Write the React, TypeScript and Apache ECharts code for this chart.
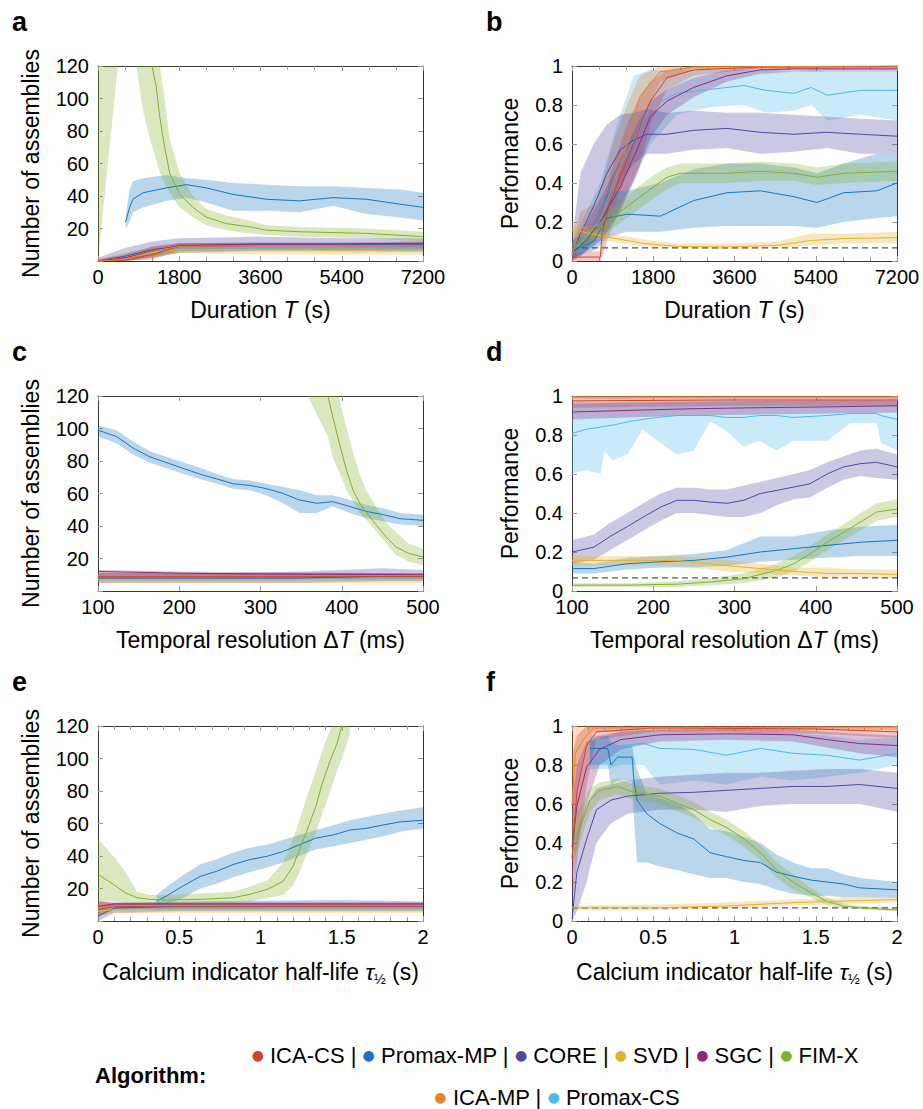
import React, { useEffect, useRef } from "react";
import * as echarts from "echarts";

const FONT = "'Liberation Sans', Arial, Helvetica, sans-serif";

const ALGORITHMS = ["ICA-CS", "Promax-MP", "CORE", "SVD", "SGC", "FIM-X", "ICA-MP", "Promax-CS"];
const COLORS = ["#d0452a", "#1677c0", "#5049a3", "#e6b12a", "#8a2b80", "#85ae2c", "#e8832a", "#4cb9e8"];

// axis ticks
const DURATION_TICKS = [0, 1800, 3600, 5400, 7200];
const RESOLUTION_TICKS = [100, 200, 300, 400, 500];
const HALFLIFE_TICKS = [0, 0.5, 1, 1.5, 2];
const COUNT_TICKS = [0, 20, 40, 60, 80, 100, 120];
const PERF_TICKS = [0, 0.2, 0.4, 0.6, 0.8, 1];
const CHANCE_LEVEL = 0.067;

// each row: [x, mean, lower, upper]
// ---- panel a: number of assemblies vs duration
const a_icacs = [[0, 0, 0, 1], [600, 0.5, 0, 2], [1200, 4, 1, 7], [1800, 9, 6, 11], [3600, 9.5, 7, 11], [5400, 9.5, 7, 11], [7200, 9.5, 7, 11]];
const a_promaxmp = [[613, 24, 20, 28], [700, 33, 24, 44], [775, 38, 30, 49], [997, 42, 33, 51], [1514, 45, 37, 53], [1957, 47, 39, 51], [2400, 45, 36, 50], [2991, 41, 31, 48], [3729, 38, 31, 47], [4468, 37, 30, 46], [5206, 39, 34, 46], [5945, 38, 29, 45], [6683, 35, 27, 44], [7200, 33, 25, 42]];
const a_core = [[0, 0, 0, 2], [600, 3, 0, 8], [1200, 7, 2, 12], [1800, 9, 5, 14], [3600, 10, 6, 15], [5400, 10, 6, 14], [7200, 10, 6, 14]];
const a_svd = [[0, 0, 0, 1], [600, 2, 0, 5], [1200, 5, 2, 8], [1800, 7, 5, 10], [3600, 7, 4, 10], [5400, 6.5, 4, 9], [7200, 6, 4, 8.5]];
const a_sgc = [[0, 0, 0, 1], [600, 2, 0, 4], [1200, 6, 3, 9], [1800, 9.5, 8, 11], [3600, 10.5, 9.5, 11.5], [5400, 10.5, 9.5, 11.5], [7200, 11, 10, 12]];
const a_fimx = [[0, 150, 0, 300], [220, 160, 60, 300], [440, 170, 120, 300], [850, 180, 120, 300], [1000, 140, 92, 220], [1182, 122, 72, 180], [1292, 107, 62, 150], [1366, 89, 55, 120], [1477, 70, 48, 100], [1588, 54, 42, 75], [1809, 41, 33, 54], [2105, 33, 27, 40], [2400, 27, 22, 32], [2843, 23, 19, 28], [3360, 21, 17, 25], [3729, 19, 16, 22], [4468, 18, 15, 21], [5945, 17, 14, 20], [7200, 15, 12, 18]];
const a_icamp = [[0, 0, 0, 1], [600, 1, 0, 3], [1200, 6, 2, 9], [1800, 9, 7, 11], [3600, 9.5, 8, 11], [7200, 9.5, 8, 11]];
const a_promaxcs = [[0, 0, 0, 1], [900, 4, 1, 7], [1800, 8, 6, 10], [3600, 8, 6.5, 9.5], [7200, 8, 6.5, 9.5]];

// ---- panel b: performance vs duration
const b_icacs = [[0, 0.02, 0, 0.04], [628, 0.02, 0, 0.05], [665, 0.14, 0.02, 0.2], [849, 0.31, 0.15, 0.45], [1219, 0.52, 0.35, 0.7], [1514, 0.69, 0.5, 0.85], [1735, 0.82, 0.7, 0.92], [2105, 0.94, 0.88, 0.98], [2695, 0.98, 0.95, 1], [4172, 0.995, 0.99, 1], [7200, 1, 0.99, 1]];
const b_promaxmp = [[0, 0.05, 0.02, 0.1], [480, 0.1, 0.05, 0.2], [775, 0.22, 0.12, 0.35], [1219, 0.24, 0.15, 0.36], [1957, 0.23, 0.15, 0.4], [2695, 0.31, 0.17, 0.47], [3434, 0.35, 0.18, 0.5], [4172, 0.36, 0.18, 0.5], [4911, 0.33, 0.18, 0.48], [5428, 0.3, 0.17, 0.45], [6020, 0.35, 0.2, 0.5], [6757, 0.36, 0.22, 0.55], [7200, 0.4, 0.23, 0.55]];
const b_core = [[0, 0.04, 0, 0.1], [185, 0.14, 0.02, 0.45], [480, 0.28, 0.1, 0.6], [775, 0.45, 0.25, 0.7], [1071, 0.57, 0.4, 0.75], [1366, 0.62, 0.5, 0.76], [1662, 0.65, 0.55, 0.78], [2105, 0.65, 0.55, 0.76], [2695, 0.67, 0.57, 0.77], [3434, 0.68, 0.58, 0.76], [4172, 0.66, 0.55, 0.76], [4911, 0.65, 0.56, 0.75], [5650, 0.66, 0.58, 0.74], [6388, 0.65, 0.55, 0.73], [7200, 0.64, 0.55, 0.72]];
const b_svd = [[0, 0.16, 0.13, 0.19], [849, 0.12, 0.1, 0.14], [1588, 0.09, 0.075, 0.11], [2326, 0.075, 0.065, 0.09], [3434, 0.072, 0.06, 0.09], [4540, 0.08, 0.065, 0.1], [5280, 0.105, 0.08, 0.14], [6020, 0.115, 0.09, 0.14], [7200, 0.12, 0.09, 0.15]];
const b_sgc = [[0, 0.04, 0.01, 0.08], [332, 0.11, 0.05, 0.2], [702, 0.23, 0.12, 0.35], [1071, 0.38, 0.25, 0.52], [1440, 0.57, 0.45, 0.7], [1735, 0.74, 0.63, 0.82], [2105, 0.82, 0.75, 0.88], [2695, 0.89, 0.84, 0.94], [3434, 0.95, 0.92, 0.98], [4172, 0.98, 0.96, 0.995], [4911, 0.985, 0.97, 1], [7200, 0.985, 0.97, 1]];
const b_fimx = [[0, 0.06, 0.03, 0.09], [480, 0.14, 0.1, 0.18], [849, 0.21, 0.16, 0.26], [1219, 0.28, 0.22, 0.33], [1514, 0.33, 0.27, 0.39], [1809, 0.38, 0.32, 0.44], [2105, 0.43, 0.37, 0.48], [2400, 0.45, 0.4, 0.5], [3434, 0.45, 0.4, 0.5], [4172, 0.46, 0.41, 0.51], [4911, 0.45, 0.41, 0.5], [5428, 0.43, 0.39, 0.48], [6020, 0.45, 0.4, 0.5], [7200, 0.46, 0.41, 0.51]];
const b_icamp = [[0, 0.03, 0, 0.08], [180, 0.17, 0.08, 0.25], [550, 0.18, 0.1, 0.3], [900, 0.35, 0.25, 0.6], [1220, 0.6, 0.45, 0.8], [1500, 0.84, 0.7, 0.95], [1950, 0.97, 0.92, 1], [2700, 0.995, 0.98, 1], [7200, 1, 0.99, 1]];
const b_promaxcs = [[0, 0.04, 0, 0.1], [628, 0.21, 0.1, 0.4], [997, 0.45, 0.25, 0.7], [1366, 0.62, 0.4, 0.95], [1735, 0.79, 0.6, 0.98], [2326, 0.86, 0.75, 0.98], [3065, 0.88, 0.79, 0.98], [3803, 0.9, 0.8, 0.98], [4300, 0.875, 0.76, 0.98], [4911, 0.86, 0.77, 0.97], [5300, 0.89, 0.8, 0.98], [5650, 0.85, 0.72, 0.97], [6388, 0.875, 0.75, 0.97], [7200, 0.875, 0.72, 0.97]];

// ---- panel c: number of assemblies vs temporal resolution
const c_icacs = [[100, 9, 7, 11], [300, 9, 7, 11], [500, 9, 7, 11]];
const c_promaxmp = [[100, 99, 95, 102], [123, 95, 91, 99], [143, 88, 84, 92], [164, 82.5, 79, 86], [200, 76.3, 73, 80], [225, 72, 69, 76], [246, 69, 66, 72], [266, 66, 63, 69], [287, 65, 62, 68], [307, 63, 59, 66], [328, 60, 54, 64], [348, 56, 48, 62], [369, 54, 48, 59], [389, 55, 52, 59], [410, 52, 48, 56], [430, 49, 45, 53], [451, 47, 43, 51], [472, 44.5, 41, 48], [500, 43.5, 40, 47]];
const c_core = [[100, 8, 5, 11], [250, 8, 5, 11], [350, 8, 5, 12], [450, 9, 6, 14], [500, 9, 6, 13]];
const c_svd = [[100, 7, 5, 9], [300, 7, 5, 9], [500, 7, 5, 9]];
const c_sgc = [[100, 12, 10.5, 13], [200, 11, 10, 12], [300, 10.5, 9.5, 11.5], [500, 10, 9, 11]];
const c_fimx = [[358, 150, 120, 200], [383, 120, 95, 160], [389, 107, 82, 135], [397, 91, 73, 118], [406, 74, 62, 100], [414, 62, 55, 85], [422, 54, 48, 72], [430, 48.6, 44, 62], [442, 41, 37, 52], [455, 33, 29, 42], [467, 27, 22, 36], [483, 23, 18, 29], [500, 21, 16, 26]];
const c_icamp = [[100, 9.5, 8, 11], [500, 9.5, 8, 11]];
const c_promaxcs = [[100, 8, 6, 10], [500, 8, 6.5, 9.5]];

// ---- panel d: performance vs temporal resolution
const d_icacs = [[100, 0.975, 0.94, 1], [300, 0.98, 0.95, 1], [500, 0.98, 0.95, 1]];
const d_promaxmp = [[100, 0.115, 0.09, 0.15], [127, 0.115, 0.09, 0.14], [168, 0.14, 0.11, 0.17], [209, 0.15, 0.12, 0.18], [250, 0.157, 0.12, 0.19], [291, 0.174, 0.13, 0.21], [332, 0.2, 0.15, 0.28], [373, 0.217, 0.16, 0.28], [414, 0.234, 0.17, 0.31], [455, 0.25, 0.18, 0.33], [500, 0.26, 0.18, 0.34]];
const d_core = [[100, 0.2, 0.14, 0.26], [127, 0.225, 0.16, 0.29], [147, 0.28, 0.21, 0.35], [168, 0.33, 0.26, 0.4], [188, 0.38, 0.31, 0.45], [209, 0.43, 0.36, 0.5], [229, 0.465, 0.4, 0.53], [250, 0.465, 0.4, 0.53], [270, 0.456, 0.39, 0.52], [291, 0.45, 0.38, 0.52], [311, 0.465, 0.38, 0.54], [332, 0.5, 0.4, 0.56], [352, 0.516, 0.44, 0.58], [373, 0.533, 0.47, 0.6], [393, 0.55, 0.48, 0.62], [414, 0.6, 0.53, 0.66], [434, 0.636, 0.57, 0.69], [455, 0.653, 0.59, 0.72], [475, 0.66, 0.58, 0.73], [500, 0.636, 0.57, 0.7]];
const d_svd = [[100, 0.157, 0.13, 0.18], [168, 0.157, 0.13, 0.18], [229, 0.157, 0.13, 0.18], [291, 0.13, 0.1, 0.16], [332, 0.115, 0.09, 0.14], [373, 0.1, 0.08, 0.12], [414, 0.09, 0.07, 0.12], [455, 0.09, 0.07, 0.11], [500, 0.085, 0.065, 0.11]];
const d_sgc = [[100, 0.918, 0.88, 0.96], [168, 0.926, 0.89, 0.965], [250, 0.935, 0.9, 0.97], [332, 0.94, 0.905, 0.975], [414, 0.944, 0.91, 0.98], [500, 0.95, 0.915, 0.98]];
const d_fimx = [[100, 0.03, 0.02, 0.04], [168, 0.03, 0.02, 0.04], [229, 0.035, 0.02, 0.05], [270, 0.046, 0.03, 0.065], [311, 0.063, 0.04, 0.09], [352, 0.106, 0.07, 0.14], [373, 0.14, 0.1, 0.18], [393, 0.19, 0.15, 0.23], [414, 0.25, 0.21, 0.29], [434, 0.3, 0.26, 0.34], [455, 0.354, 0.31, 0.4], [475, 0.405, 0.36, 0.45], [500, 0.42, 0.38, 0.47]];
const d_icamp = [[100, 0.995, 0.985, 1], [500, 0.995, 0.985, 1]];
const d_promaxcs = [[100, 0.807, 0.6, 0.97], [118, 0.83, 0.62, 0.97], [135, 0.84, 0.6, 0.97], [140, 0.845, 0.72, 0.97], [150, 0.85, 0.67, 0.97], [168, 0.867, 0.7, 0.97], [187, 0.88, 0.83, 0.98], [205, 0.89, 0.77, 0.98], [229, 0.9, 0.7, 0.98], [250, 0.9, 0.72, 0.98], [270, 0.9, 0.87, 0.98], [290, 0.89, 0.82, 0.98], [311, 0.89, 0.74, 0.98], [331, 0.9, 0.77, 0.98], [352, 0.9, 0.72, 0.98], [372, 0.89, 0.77, 0.98], [414, 0.9, 0.77, 0.98], [442, 0.91, 0.86, 0.98], [475, 0.91, 0.86, 0.98], [480, 0.9, 0.76, 0.98], [500, 0.88, 0.72, 0.97]];

// ---- panel e: number of assemblies vs calcium indicator half-life
const e_icacs = [[0, 7, 3, 12], [0.1, 9, 7, 11], [2, 9, 7, 11]];
const e_promaxmp = [[0.36, 12.2, 9, 16], [0.42, 15.3, 10, 21], [0.52, 21.4, 14, 28], [0.63, 27.5, 20, 35], [0.73, 30.6, 23, 38], [0.83, 34.7, 27, 42], [0.93, 37.7, 30, 45], [1.04, 39.8, 33, 47], [1.14, 42.8, 36, 50], [1.24, 46.9, 40, 53], [1.34, 51, 44, 56], [1.45, 53, 46, 59], [1.55, 56, 48, 62], [1.65, 57, 50, 64], [1.75, 59, 52, 66], [1.86, 61, 55, 68], [2, 62, 57, 70]];
const e_core = [[0, 3, 0, 8], [0.1, 8, 5, 11], [0.5, 9, 6, 12], [1.5, 9.5, 6, 13], [2, 9.5, 6, 12]];
const e_svd = [[0, 6, 3, 10], [0.1, 7, 5, 9], [2, 7, 5, 9]];
const e_sgc = [[0, 9, 6, 12], [0.1, 10.5, 9.5, 11.5], [2, 10.5, 9.5, 11.5]];
const e_fimx = [[0, 28.6, 11, 50], [0.05, 25.5, 12, 45], [0.11, 21.4, 12, 38], [0.17, 17.3, 11, 30], [0.24, 14.3, 11, 18], [0.32, 13.3, 10, 16], [0.42, 12.9, 10, 16], [0.63, 13.3, 10, 17], [0.83, 14.3, 11, 18], [0.93, 16.3, 12, 21], [1.04, 19.4, 14, 25], [1.14, 24.5, 16, 36], [1.2, 33.7, 22, 50], [1.24, 43.9, 30, 62], [1.28, 54, 40, 75], [1.34, 70.4, 54, 92], [1.38, 84.7, 66, 105], [1.43, 99, 80, 118], [1.47, 109, 92, 130], [1.5, 120, 100, 140], [1.55, 135, 115, 160]];
const e_icamp = [[0, 8, 4, 12], [0.1, 9.5, 8, 11], [2, 9.5, 8, 11]];
const e_promaxcs = [[0, 6, 3, 9], [0.1, 8, 6.5, 9.5], [2, 8, 6.5, 9.5]];

// ---- panel f: performance vs calcium indicator half-life
const f_icacs = [[0, 0.32, 0.1, 0.85], [0.03, 0.66, 0.3, 0.95], [0.09, 0.9, 0.7, 1], [0.15, 0.97, 0.93, 1], [0.5, 0.99, 0.97, 1], [1.5, 0.985, 0.96, 1], [2, 0.97, 0.94, 1]];
const f_promaxmp = [[0.11, 0.885, 0.8, 0.92], [0.22, 0.885, 0.8, 0.95], [0.24, 0.8, 0.7, 0.92], [0.28, 0.84, 0.72, 0.9], [0.37, 0.84, 0.72, 0.9], [0.38, 0.73, 0.55, 0.85], [0.4, 0.62, 0.3, 0.78], [0.46, 0.55, 0.3, 0.65], [0.54, 0.5, 0.28, 0.63], [0.65, 0.45, 0.26, 0.6], [0.75, 0.42, 0.24, 0.55], [0.85, 0.35, 0.22, 0.47], [0.95, 0.33, 0.22, 0.46], [1.06, 0.31, 0.2, 0.43], [1.16, 0.3, 0.19, 0.4], [1.26, 0.25, 0.16, 0.34], [1.36, 0.23, 0.14, 0.3], [1.47, 0.21, 0.13, 0.27], [1.57, 0.2, 0.13, 0.27], [1.67, 0.19, 0.12, 0.24], [1.77, 0.17, 0.12, 0.22], [2, 0.16, 0.12, 0.2]];
const f_core = [[0, 0.01, 0, 0.1], [0.03, 0.25, 0.05, 0.45], [0.09, 0.42, 0.2, 0.6], [0.15, 0.57, 0.4, 0.68], [0.24, 0.62, 0.5, 0.7], [0.34, 0.64, 0.55, 0.72], [0.54, 0.655, 0.57, 0.74], [0.75, 0.66, 0.57, 0.75], [0.95, 0.67, 0.56, 0.76], [1.16, 0.68, 0.59, 0.76], [1.36, 0.69, 0.6, 0.77], [1.57, 0.69, 0.6, 0.78], [1.77, 0.7, 0.6, 0.78], [2, 0.68, 0.56, 0.76]];
const f_svd = [[0, 0.068, 0.055, 0.08], [0.54, 0.068, 0.055, 0.085], [0.95, 0.077, 0.065, 0.095], [1.36, 0.094, 0.08, 0.11], [1.57, 0.1, 0.085, 0.115], [2, 0.11, 0.095, 0.125]];
const f_sgc = [[0, 0.38, 0.2, 0.6], [0.03, 0.59, 0.4, 0.8], [0.09, 0.79, 0.6, 0.92], [0.17, 0.88, 0.8, 0.95], [0.3, 0.93, 0.88, 0.97], [0.54, 0.955, 0.92, 0.98], [0.95, 0.96, 0.93, 0.985], [1.36, 0.955, 0.92, 0.98], [1.57, 0.93, 0.89, 0.97], [1.77, 0.91, 0.86, 0.96], [2, 0.9, 0.84, 0.95]];
const f_fimx = [[0, 0.4, 0.3, 0.55], [0.05, 0.48, 0.4, 0.58], [0.11, 0.62, 0.56, 0.68], [0.17, 0.67, 0.62, 0.71], [0.28, 0.69, 0.65, 0.73], [0.38, 0.66, 0.62, 0.7], [0.54, 0.64, 0.6, 0.68], [0.75, 0.57, 0.53, 0.61], [0.85, 0.52, 0.48, 0.56], [0.95, 0.48, 0.44, 0.52], [1.06, 0.42, 0.38, 0.46], [1.16, 0.35, 0.31, 0.39], [1.26, 0.26, 0.22, 0.3], [1.36, 0.2, 0.16, 0.24], [1.47, 0.145, 0.12, 0.17], [1.57, 0.1, 0.08, 0.12], [1.67, 0.077, 0.065, 0.09], [1.77, 0.068, 0.06, 0.08], [2, 0.056, 0.05, 0.065]];
const f_icamp = [[0, 0.59, 0.3, 1], [0.02, 0.86, 0.6, 1], [0.07, 0.93, 0.85, 1], [0.13, 0.99, 0.97, 1], [2, 0.995, 0.98, 1]];
const f_promaxcs = [[0.11, 0.885, 0.78, 0.95], [0.22, 0.885, 0.78, 0.95], [0.3, 0.9, 0.8, 0.97], [0.44, 0.91, 0.8, 0.98], [0.54, 0.885, 0.7, 0.97], [0.75, 0.88, 0.72, 0.97], [0.95, 0.85, 0.7, 0.96], [1.16, 0.885, 0.74, 0.97], [1.36, 0.86, 0.72, 0.96], [1.57, 0.85, 0.74, 0.95], [1.77, 0.825, 0.76, 0.93], [2, 0.86, 0.8, 0.94]];

const BAND_ORDER = [7, 6, 0, 4, 2, 1, 5, 3];
const LINE_ORDER = [7, 2, 1, 5, 3, 4, 0, 6];

function rgba(hex: string, a: number) {
  const n = parseInt(hex.slice(1), 16);
  return `rgba(${(n >> 16) & 255},${(n >> 8) & 255},${n & 255},${a})`;
}

const PANELS = [
  { letter: "a", left: 98, top: 66, xt: DURATION_TICKS, minor: 3, yt: COUNT_TICKS, perf: false, xname: "{n|Duration }{i|T}{n| (s)}", data: [a_icacs, a_promaxmp, a_core, a_svd, a_sgc, a_fimx, a_icamp, a_promaxcs] },
  { letter: "b", left: 572, top: 66, xt: DURATION_TICKS, minor: 3, yt: PERF_TICKS, perf: true, xname: "{n|Duration }{i|T}{n| (s)}", data: [b_icacs, b_promaxmp, b_core, b_svd, b_sgc, b_fimx, b_icamp, b_promaxcs] },
  { letter: "c", left: 98, top: 396, xt: RESOLUTION_TICKS, minor: 0, yt: COUNT_TICKS, perf: false, xname: "{n|Temporal resolution Δ}{i|T}{n| (ms)}", data: [c_icacs, c_promaxmp, c_core, c_svd, c_sgc, c_fimx, c_icamp, c_promaxcs] },
  { letter: "d", left: 572, top: 396, xt: RESOLUTION_TICKS, minor: 0, yt: PERF_TICKS, perf: true, xname: "{n|Temporal resolution Δ}{i|T}{n| (ms)}", data: [d_icacs, d_promaxmp, d_core, d_svd, d_sgc, d_fimx, d_icamp, d_promaxcs] },
  { letter: "e", left: 98, top: 726, xt: HALFLIFE_TICKS, minor: 5, yt: COUNT_TICKS, perf: false, xname: "{n|Calcium indicator half-life }{i|τ}{s|½}{n| (s)}", data: [e_icacs, e_promaxmp, e_core, e_svd, e_sgc, e_fimx, e_icamp, e_promaxcs] },
  { letter: "f", left: 572, top: 726, xt: HALFLIFE_TICKS, minor: 5, yt: PERF_TICKS, perf: true, xname: "{n|Calcium indicator half-life }{i|τ}{s|½}{n| (s)}", data: [f_icacs, f_promaxmp, f_core, f_svd, f_sgc, f_fimx, f_icamp, f_promaxcs] },
];

const NAME_RICH = {
  n: { fontSize: 23, fontFamily: FONT, color: "#000" },
  i: { fontSize: 23, fontFamily: FONT, fontStyle: "italic", color: "#000" },
  s: { fontSize: 14, fontFamily: FONT, color: "#000", padding: [14, 0, 0, 0], verticalAlign: "bottom" },
};

function buildOption() {
  const grid: any[] = [];
  const xAxis: any[] = [];
  const yAxis: any[] = [];
  const series: any[] = [];
  const graphic: any[] = [];
  const tickStyle = { color: "#9a9a9a", width: 1 };
  const lineStyle = { color: "#333", width: 1 };

  PANELS.forEach((p, gi) => {
    grid.push({ left: p.left, top: p.top, width: 325, height: 195, containLabel: false });
    const xmin = p.xt[0], xmax = p.xt[p.xt.length - 1], xint = p.xt[1] - p.xt[0];
    const ymin = p.yt[0], ymax = p.yt[p.yt.length - 1], yint = p.yt[1] - p.yt[0];
    const baseX = {
      gridIndex: gi, type: "value", min: xmin, max: xmax, interval: xint,
      axisLine: { show: true, onZero: false, lineStyle },
      axisTick: { show: true, inside: true, length: 5, lineStyle: tickStyle },
      minorTick: { show: p.minor > 0, splitNumber: p.minor || 5, length: 4, lineStyle: tickStyle },
      splitLine: { show: false },
    };
    xAxis.push({
      ...baseX, position: "bottom",
      axisLabel: { fontSize: 20, fontFamily: FONT, color: "#000", margin: 6, formatter: (v: number) => String(v) },
      name: p.xname, nameLocation: "middle", nameGap: 37,
      nameTextStyle: { fontSize: 23, fontFamily: FONT, color: "#000", rich: NAME_RICH },
    });
    xAxis.push({ ...baseX, position: "top", axisLabel: { show: false } });
    const baseY = {
      gridIndex: gi, type: "value", min: ymin, max: ymax, interval: yint,
      axisLine: { show: true, onZero: false, lineStyle },
      axisTick: { show: true, inside: true, length: 5, lineStyle: tickStyle },
      splitLine: { show: false },
    };
    yAxis.push({
      ...baseY, position: "left",
      axisLabel: {
        fontSize: 20, fontFamily: FONT, color: "#000", margin: 9,
        formatter: (v: number) => (p.perf ? String(v) : v === 0 ? "" : String(v)),
      },
      name: p.perf ? "Performance" : "Number of assemblies",
      nameLocation: "middle", nameGap: p.perf ? 51 : 56,
      nameTextStyle: { fontSize: 23, fontFamily: FONT, color: "#000" },
    });
    yAxis.push({ ...baseY, position: "right", axisLabel: { show: false } });

    const xi = gi * 2, yi = gi * 2;
    BAND_ORDER.forEach((k) => {
      const d = p.data[k];
      series.push({
        type: "custom", name: ALGORITHMS[k], xAxisIndex: xi, yAxisIndex: yi, clip: true, silent: true, z: 1,
        data: d.map((r) => [r[0], r[2], r[3]]),
        encode: { x: 0, y: [1, 2] },
        renderItem: (params: any, api: any) => {
          if (params.dataIndex !== 0) return null;
          const upper = d.map((r) => api.coord([r[0], r[3]]));
          const lower = d.map((r) => api.coord([r[0], r[2]])).reverse();
          return { type: "polygon", shape: { points: upper.concat(lower) }, style: { fill: rgba(COLORS[k], 0.3) } };
        },
      });
    });
    if (p.perf) {
      series.push({
        type: "line", xAxisIndex: xi, yAxisIndex: yi, silent: true, z: 3, symbol: "none",
        data: [[xmin, CHANCE_LEVEL], [xmax, CHANCE_LEVEL]],
        lineStyle: { color: "#555", width: 1.2, type: [6, 4] },
      });
    }
    LINE_ORDER.forEach((k) => {
      const d = p.data[k];
      series.push({
        type: "line", name: ALGORITHMS[k], xAxisIndex: xi, yAxisIndex: yi, silent: true, z: 4,
        symbol: "none", showSymbol: false, clip: true,
        data: d.map((r) => [r[0], r[1]]),
        lineStyle: { color: COLORS[k], width: 1 },
      });
    });

    graphic.push({
      type: "text", left: p.left - 86, top: p.top - 58,
      style: { text: p.letter, font: `bold 27px ${FONT}`, fill: "#000" },
    });
  });

  const rich: any = { t: { font: `22px ${FONT}`, fill: "#000" } };
  COLORS.forEach((c, i) => { rich["c" + i] = { font: `14px 'DejaVu Sans'`, fill: c }; });
  const row = (idx: number[]) => idx.map((i, j) => `{c${i}|●}{t| ${ALGORITHMS[i]}${j < idx.length - 1 ? " | " : ""}}`).join("");
  graphic.push({
    type: "text", left: 95, top: 1064,
    style: { text: "Algorithm:", font: `bold 22px ${FONT}`, fill: "#000" },
  });
  graphic.push({
    type: "text", x: 555, y: 1055,
    style: { text: row([0, 1, 2, 3, 4, 5]), rich, align: "center", verticalAlign: "middle" },
  });
  graphic.push({
    type: "text", x: 557, y: 1097,
    style: { text: row([6, 7]), rich, align: "center", verticalAlign: "middle" },
  });

  return { animation: false, backgroundColor: "#fff", grid, xAxis, yAxis, series, graphic };
}

export default function App() {
  const ref = useRef<HTMLDivElement>(null);
  useEffect(() => {
    if (!ref.current) return;
    const chart = echarts.init(ref.current, undefined, { renderer: "svg" });
    chart.setOption(buildOption() as any);
    return () => chart.dispose();
  }, []);
  return <div ref={ref} style={{ position: "absolute", left: 0, top: 0, width: 923, height: 1109, background: "#fff" }} />;
}
